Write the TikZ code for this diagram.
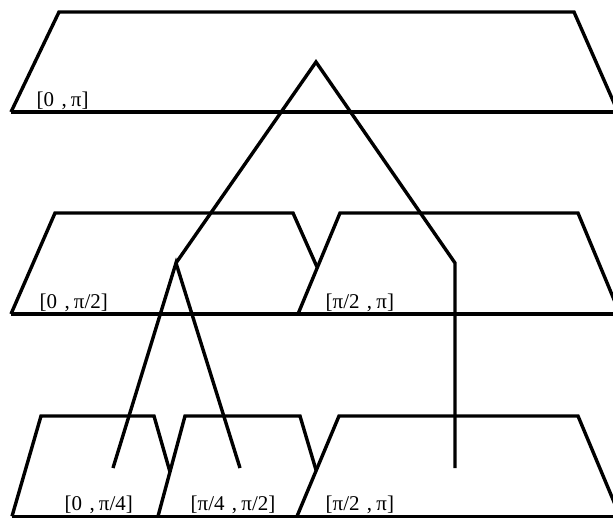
\documentclass[tikz,border=0pt]{standalone}
\usepackage{fontspec}
\setmainfont{Liberation Serif}
\tikzset{
  interval/.style={anchor=base west, inner sep=0pt, font=\fontsize{21}{24}\selectfont}
}
\begin{document}
\begin{tikzpicture}[x=1pt,y=-1pt,line width=3.4pt]
\useasboundingbox (0,0) rectangle (613,518);
\clip (0,0) rectangle (613,518);
% level 0: whole interval
\draw (11,112) -- (59,12) -- (574,12) -- (618,112);
\draw (11,112) -- (618,112);
\node[interval] (i0) at (35,107) {[0\hspace{0.35em},\hspace{0.2em}π]};
% level 1
\draw (11,314) -- (55,213) -- (293,213) -- (317,267);
\draw (298,314) -- (340,213) -- (578,213) -- (620,314);
\draw (11,314) -- (620,314);
\node[interval] (i1a) at (38,309) {[0\hspace{0.35em},\hspace{0.2em}π/2]};
\node[interval] (i1b) at (324,309) {[π/2\hspace{0.35em},\hspace{0.2em}π]};
% level 2
\draw (12,516.3) -- (41,416) -- (154,416) -- (170,472);
\draw (158,516.3) -- (185,416) -- (300,416) -- (316,470);
\draw (297,516.3) -- (339,416) -- (578,416) -- (620,516.3);
\draw (12,516.3) -- (620,516.3);
\node[interval] (i2a) at (63,510) {[0\hspace{0.35em},\hspace{0.2em}π/4]};
\node[interval] (i2b) at (189,510) {[π/4\hspace{0.35em},\hspace{0.2em}π/2]};
\node[interval] (i2c) at (324,510) {[π/2\hspace{0.35em},\hspace{0.2em}π]};
% bisection tree
\coordinate (root) at (316,62);
\coordinate (left) at (176,263);
\coordinate (right) at (455,263);
\coordinate (leafA) at (113,468);
\coordinate (leafB) at (240,468);
\coordinate (leafC) at (455,468);
\draw (left) -- (root) -- (right) -- (leafC);
\draw (leafA) -- (left) -- (leafB);
\end{tikzpicture}
\end{document}
